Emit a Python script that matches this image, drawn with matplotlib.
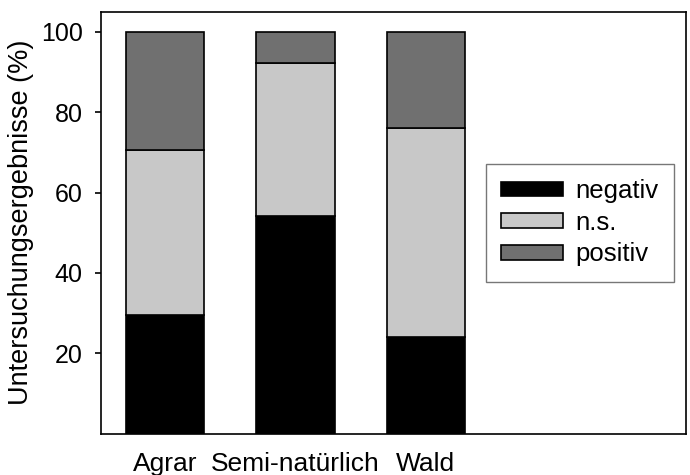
import numpy as np
import matplotlib.pyplot as plt

plt.rcParams['font.family'] = ['Liberation Sans', 'DejaVu Sans']

# Data (percent of study results)
categories = ['Agrar', 'Semi-natürlich', 'Wald']
negativ = [29.5, 54.1, 24.0]
ns = [41.1, 38.1, 52.1]
positiv = [29.4, 7.8, 23.9]

fig = plt.figure(figsize=(6.9, 4.75), dpi=100)
ax = fig.add_axes([0.146, 0.087, 0.848, 0.888])

x = np.arange(len(categories))
w = 0.6
bottom2 = np.array(negativ) + np.array(ns)
ax.bar(x, negativ, w, color='black', edgecolor='black', linewidth=1.2, label='negativ')
ax.bar(x, ns, w, bottom=negativ, color='#c8c8c8', edgecolor='black', linewidth=1.2, label='n.s.')
ax.bar(x, positiv, w, bottom=bottom2, color='#707070', edgecolor='black', linewidth=1.2, label='positiv')

ax.set_xlim(-0.49, 3.99)
ax.set_ylim(0, 105)
ax.set_yticks([20, 40, 60, 80, 100])
ax.set_xticks(x)
ax.set_xticklabels(categories)
ax.tick_params(axis='x', length=0, pad=13, labelsize=19)
ax.tick_params(axis='y', length=4, width=1.2, labelsize=18, pad=9)
for s in ax.spines.values():
    s.set_linewidth(1.2)
ax.set_ylabel('Untersuchungsergebnisse (%)', fontsize=19.5, labelpad=5)

leg = ax.legend(loc='center right', bbox_to_anchor=(0.98, 0.5), fontsize=18.5,
                frameon=True, fancybox=False, edgecolor='#555555',
                handlelength=2.4, handleheight=0.5, handletextpad=0.5,
                borderpad=0.6, labelspacing=0.3, borderaxespad=0)
leg.get_frame().set_linewidth(1.0)

fig.savefig('out.png', dpi=100, facecolor='white')
